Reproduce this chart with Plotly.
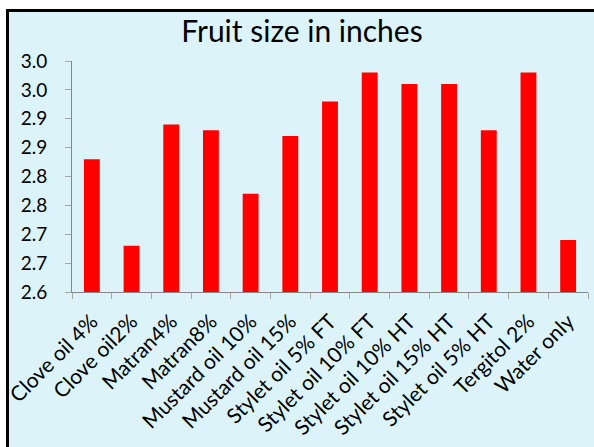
import plotly.graph_objects as go

categories = ["Clove oil 4%", "Clove oil2%", "Matran4%", "Matran8%", "Mustard oil 10%",
              "Mustard oil 15%", "Stylet oil 5% FT", "Stylet oil 10% FT", "Stylet oil 10% HT",
              "Stylet oil 15% HT", "Stylet oil 5% HT", "Tergitol 2%", "Water only"]
fruit_size = [2.83, 2.68, 2.89, 2.88, 2.77, 2.87, 2.93, 2.98, 2.96, 2.96, 2.88, 2.98, 2.69]
y_tick_vals = [2.60, 2.65, 2.70, 2.75, 2.80, 2.85, 2.90, 2.95, 3.00]
y_tick_text = ["2.6", "2.7", "2.7", "2.8", "2.8", "2.9", "2.9", "3.0", "3.0"]

# page is 594x447; the figure sits inside a frame (white gap + 3px black border on left/top)
PAGE_W, PAGE_H = 594, 447
OFF_X, OFF_Y = 9, 12          # figure origin on the page
W, H = PAGE_W - OFF_X, PAGE_H - OFF_Y

font = "Lato, 'Open Sans', sans-serif"

fig = go.Figure(go.Bar(
    x=categories, y=fruit_size,
    marker=dict(color="#ff0000", line=dict(width=0)),
))

fig.update_layout(
    width=W, height=H,
    margin=dict(l=72 - OFF_X, r=5.5, t=60.5 - OFF_Y, b=H - (291.7 - OFF_Y), autoexpand=False),
    paper_bgcolor="#dcf4f9",
    plot_bgcolor="rgba(0,0,0,0)",
    bargap=0.6,
    showlegend=False,
    font=dict(family=font, color="black"),
    title=dict(text="Fruit size in inches", x=(302 - OFF_X) / W, xanchor="center",
               y=1 - (31 - OFF_Y) / H, yanchor="middle",
               font=dict(size=30, family=font, color="black")),
)

fig.update_xaxes(
    showline=True, linecolor="#868686", linewidth=1,
    ticks="outside", tickson="boundaries", ticklen=6, tickcolor="#a6a6a6",
    tickangle=-45, tickfont=dict(size=21, family=font, color="black"),
    ticklabelstandoff=8,
    showgrid=False,
)
fig.update_yaxes(
    range=[2.6, 3.0], tickmode="array", tickvals=y_tick_vals, ticktext=y_tick_text,
    showline=True, linecolor="#868686", linewidth=1,
    ticks="outside", ticklen=6, tickcolor="#a6a6a6",
    tickfont=dict(size=19, family=font, color="black"),
    ticklabelstandoff=14,
    showgrid=False, zeroline=False,
)

post = (
    "document.documentElement.style.overflow='hidden';"
    "document.body.style.margin='0';"
    "document.body.style.overflow='hidden';"
    "document.body.style.background='white';"
    "var gd=document.getElementById('{plot_id}');"
    "if(gd){gd.style.marginLeft='6px';gd.style.marginTop='9px';"
    "gd.style.borderLeft='3px solid black';gd.style.borderTop='3px solid black';}"
)

fig.write_html("out.html", config={"displayModeBar": False}, post_script=post)
